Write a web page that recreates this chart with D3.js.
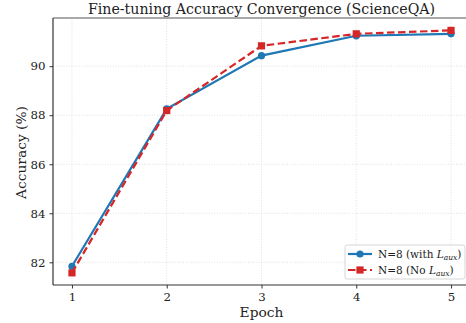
<!DOCTYPE html>
<html>
<head>
<meta charset="utf-8">
<script src="https://cdn.jsdelivr.net/npm/d3@7"></script>
<style>
  body { margin: 0; background: #fff; }
  svg { display: block; font-family: "DejaVu Serif", serif; }
</style>
</head>
<body>
<div id="chart"></div>
<script>
var epochs = [1, 2, 3, 4, 5];
var withAux = [81.84, 88.26, 90.43, 91.24, 91.32];
var noAux = [81.57, 88.19, 90.83, 91.32, 91.46];
var yTicks = [82, 84, 86, 88, 90];

var W = 466, H = 323;
var margin = {top: 18, right: -4, bottom: 38, left: 53};
var width = W - margin.left - margin.right;
var height = H - margin.top - margin.bottom;

var svg = d3.select('#chart').append('svg')
  .attr('width', W)
  .attr('height', H);

var chart = svg.append('g')
  .attr('transform', 'translate(' + margin.left + ',' + margin.top + ')');

var x = d3.scaleLinear().domain([0.8, 5.2]).range([0, width]);
var y = d3.scaleLinear().domain([81.075, 91.965]).range([height, 0]);

// grid
chart.append('g').selectAll('line')
  .data(epochs).enter().append('line')
    .attr('x1', function(d) { return x(d); })
    .attr('x2', function(d) { return x(d); })
    .attr('y1', 0).attr('y2', height)
    .style('stroke', '#d9d9d9').style('stroke-width', 0.8)
    .style('stroke-dasharray', '1,1.6');
chart.append('g').selectAll('line')
  .data(yTicks).enter().append('line')
    .attr('y1', function(d) { return y(d); })
    .attr('y2', function(d) { return y(d); })
    .attr('x1', 0).attr('x2', width)
    .style('stroke', '#d9d9d9').style('stroke-width', 0.8)
    .style('stroke-dasharray', '1,1.6');

// axes
var xAxis = d3.axisBottom(x).tickValues(epochs).tickFormat(d3.format('d')).tickSize(3.5).tickPadding(4);
var yAxis = d3.axisLeft(y).tickValues(yTicks).tickFormat(d3.format('d')).tickSize(3.5).tickPadding(4);

var gx = chart.append('g')
  .attr('transform', 'translate(0,' + height + ')')
  .call(xAxis);
var gy = chart.append('g').call(yAxis);

[gx, gy].forEach(function(g) {
  g.select('.domain').remove();
  g.selectAll('.tick line').style('stroke', '#333').style('stroke-width', 1);
  g.selectAll('.tick text').style('font-family', '"DejaVu Serif", serif')
    .style('font-size', '11.8px').style('fill', '#222');
});

// spines
chart.append('line').attr('x1', 0).attr('x2', width).attr('y1', 0).attr('y2', 0)
  .style('stroke', '#555').style('stroke-width', 1.2);
chart.append('line').attr('x1', 0).attr('x2', 0).attr('y1', 0).attr('y2', height)
  .style('stroke', '#333').style('stroke-width', 1.2);
chart.append('line').attr('x1', 0).attr('x2', width).attr('y1', height).attr('y2', height)
  .style('stroke', '#333').style('stroke-width', 1.2);

var line = d3.line()
  .x(function(d) { return x(d[0]); })
  .y(function(d) { return y(d[1]); });

var blue = '#1f77b4', red = '#d62728';

var dataBlue = d3.zip(epochs, withAux);
var dataRed = d3.zip(epochs, noAux);

chart.append('path').datum(dataBlue)
  .attr('d', line)
  .style('fill', 'none').style('stroke', blue).style('stroke-width', 2.2);
chart.selectAll('.dot').data(dataBlue).enter().append('circle')
  .attr('cx', function(d) { return x(d[0]); })
  .attr('cy', function(d) { return y(d[1]); })
  .attr('r', 3.6).style('fill', blue);

chart.append('path').datum(dataRed)
  .attr('d', line)
  .style('fill', 'none').style('stroke', red).style('stroke-width', 2.2)
  .style('stroke-dasharray', '7.5,3.5');
chart.selectAll('.sq').data(dataRed).enter().append('rect')
  .attr('x', function(d) { return x(d[0]) - 3.6; })
  .attr('y', function(d) { return y(d[1]) - 3.6; })
  .attr('width', 7.2).attr('height', 7.2).style('fill', red);

// title and labels
svg.append('text')
  .attr('x', 261.5).attr('y', 13.5)
  .attr('text-anchor', 'middle')
  .style('font-size', '14.2px').style('fill', '#222')
  .text('Fine-tuning Accuracy Convergence (ScienceQA)');

svg.append('text')
  .attr('x', 261.5).attr('y', 316.5)
  .attr('text-anchor', 'middle')
  .style('font-size', '13.8px').style('fill', '#222')
  .text('Epoch');

svg.append('text')
  .attr('transform', 'translate(26,' + (margin.top + height / 2 + 1) + ') rotate(-90)')
  .attr('text-anchor', 'middle')
  .style('font-size', '13.8px').style('fill', '#222')
  .text('Accuracy (%)');

// legend
var legend = svg.append('g').attr('transform', 'translate(345,245)');
legend.append('rect')
  .attr('width', 120).attr('height', 34).attr('rx', 2.5)
  .style('fill', 'rgba(255,255,255,0.85)').style('stroke', '#ccc').style('stroke-width', 0.8);

var entries = [
  {label: 'N=8 (with ', color: blue, dash: null, marker: 'circle'},
  {label: 'N=8 (No ', color: red, dash: '7.5,3.5', marker: 'square'}
];
entries.forEach(function(e, i) {
  var g = legend.append('g').attr('transform', 'translate(0,' + (9 + i * 16) + ')');
  g.append('line').attr('x1', 3).attr('x2', 27).attr('y1', 0).attr('y2', 0)
    .style('stroke', e.color).style('stroke-width', 2.2)
    .style('stroke-dasharray', e.dash);
  if (e.marker === 'circle') {
    g.append('circle').attr('cx', 15).attr('cy', 0).attr('r', 3.6).style('fill', e.color);
  } else {
    g.append('rect').attr('x', 11.4).attr('y', -3.6).attr('width', 7.2).attr('height', 7.2).style('fill', e.color);
  }
  var t = g.append('text').attr('x', 33).attr('y', 4)
    .style('font-size', '10.5px').style('fill', '#222');
  t.append('tspan').text(e.label);
  t.append('tspan').style('font-style', 'italic').text('L');
  t.append('tspan').style('font-style', 'italic').style('font-size', '7.5px')
    .attr('dy', 2).text('aux');
  t.append('tspan').attr('dy', -2).text(')');
});
</script>
</body>
</html>
